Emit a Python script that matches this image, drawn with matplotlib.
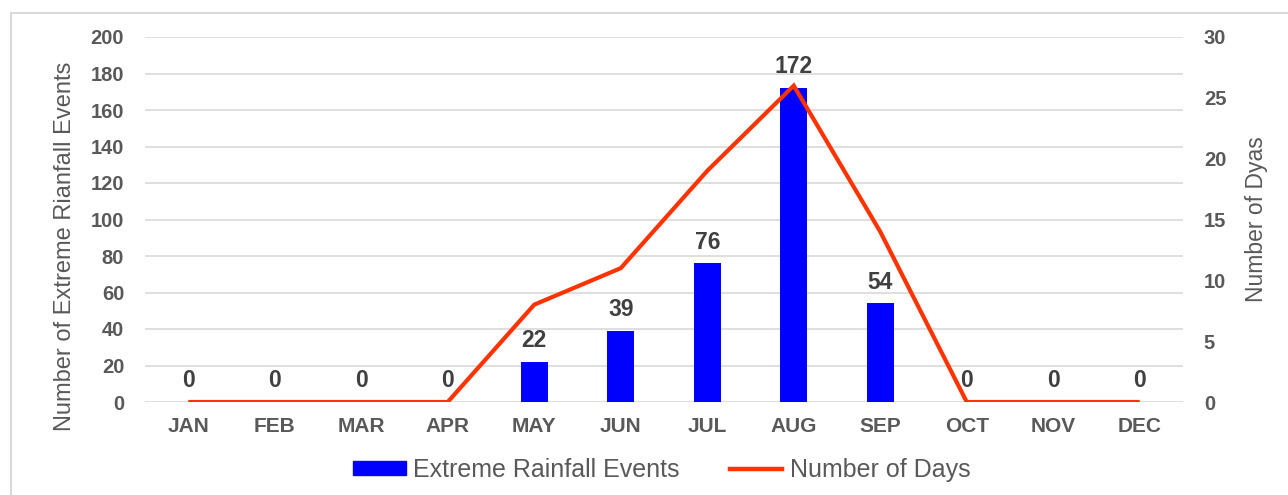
import matplotlib
matplotlib.use("Agg")
import matplotlib.pyplot as plt
from matplotlib.patches import Rectangle, Patch
from matplotlib.lines import Line2D

plt.rcParams['font.family'] = ['Liberation Sans', 'DejaVu Sans']

months = ["JAN", "FEB", "MAR", "APR", "MAY", "JUN", "JUL", "AUG", "SEP", "OCT", "NOV", "DEC"]
rainfall_events = [0, 0, 0, 0, 22, 39, 76, 172, 54, 0, 0, 0]
number_of_days = [0, 0, 0, 0, 8, 11, 19, 26, 14, 0, 0, 0]
left_ticks = [0, 20, 40, 60, 80, 100, 120, 140, 160, 180, 200]
right_ticks = [0, 5, 10, 15, 20, 25, 30]

TEXT = "#595959"
GRID = "#d9d9d9"
BAR = "#0000ff"
LINE = "#ff3300"

W, H = 1288, 495
fig = plt.figure(figsize=(W / 100, H / 100), dpi=100)
ax = fig.add_axes([145 / W, 1 - 402 / H, (1183 - 145) / W, (402 - 37) / H])

x = list(range(len(months)))
ax.bar(x, rainfall_events, width=0.31, color=BAR, zorder=2)
ax.set_xlim(-0.5, len(months) - 0.5)
ax.set_ylim(0, 200)
ax.set_yticks(left_ticks)
ax.set_xticks(x)
ax.set_xticklabels(months)
ax.grid(axis="y", color=GRID, linewidth=1.2, zorder=0)
ax.set_axisbelow(True)
for s in ax.spines.values():
    s.set_visible(False)
ax.tick_params(axis="y", length=0, labelsize=14.5, pad=15)
ax.tick_params(axis="x", length=0, labelsize=15, pad=11)
for lab in ax.get_xticklabels() + ax.get_yticklabels():
    lab.set_fontweight("bold")
    lab.set_color(TEXT)

for xi, v in zip(x, rainfall_events):
    ax.annotate(str(v), (xi, v), xytext=(0, 7), textcoords="offset points",
                ha="center", va="bottom", fontsize=16.5, fontweight="bold",
                color="#404040", zorder=5)

ax2 = ax.twinx()
ax2.plot(x, number_of_days, color=LINE, linewidth=3, solid_capstyle="butt",
         solid_joinstyle="miter", zorder=3)
ax2.set_ylim(0, 30)
ax2.set_yticks(right_ticks)
for s in ax2.spines.values():
    s.set_visible(False)
ax2.tick_params(axis="y", length=0, labelsize=14.5, pad=15)
for lab in ax2.get_yticklabels():
    lab.set_fontweight("bold")
    lab.set_color(TEXT)

fig.text(65 / W, 1 - 246 / H, "Number of Extreme Rianfall Events", rotation=90,
         ha="center", va="center", fontsize=17, color=TEXT)
fig.text(1256 / W, 1 - 219 / H, "Number of Dyas", rotation=90,
         ha="center", va="center", fontsize=16.5, color=TEXT)

handles = [Patch(facecolor=BAR, edgecolor=BAR),
           Line2D([0], [0], color=LINE, linewidth=3.2)]
fig.legend(handles, ["Extreme Rainfall Events", "Number of Days"],
           loc="center", bbox_to_anchor=(662 / W, 1 - 470 / H), ncol=2,
           frameon=False, fontsize=18, handlelength=2.1, handleheight=0.45,
           handletextpad=0.3, columnspacing=2.0, labelcolor=TEXT)

fig.patches.append(Rectangle((11 / W, -0.05), 1.2, 1 - 13 / H + 0.05,
                             transform=fig.transFigure, fill=False,
                             edgecolor=GRID, linewidth=1.5))

fig.savefig("out.png", dpi=100)
